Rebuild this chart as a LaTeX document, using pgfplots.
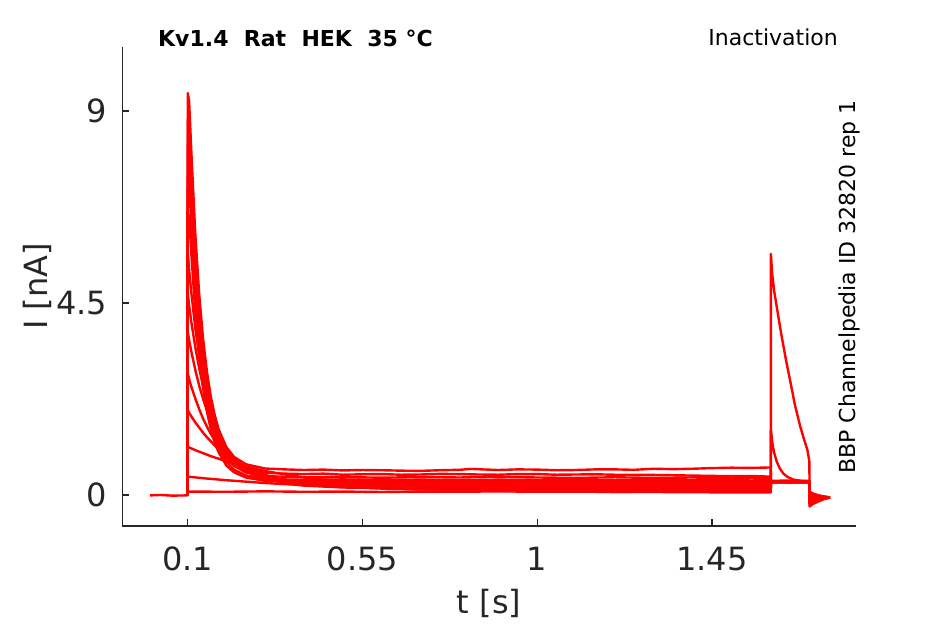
\documentclass[border=0pt]{standalone}
\usepackage{fontspec}
\setmainfont{DejaVu Sans}
\usepackage{pgfplots}
\pgfplotsset{compat=1.18}
\definecolor{axgray}{HTML}{262626}
\begin{document}
\begin{tikzpicture}
\path[use as bounding box] (-122.3pt,-98pt) rectangle (822.7pt,526pt);
\begin{axis}[
  at={(0pt,0pt)}, anchor=south west,
  scale only axis, width=733.7pt, height=479pt,
  xmin=-0.068, xmax=1.821, ymin=-0.727, ymax=10.5,
  axis lines=left,
  axis line style={-, axgray, line width=1.2pt},
  xtick={0.1,0.55,1,1.45}, xticklabels={0.1,0.55,1,1.45},
  ytick={0,4.5,9}, yticklabels={0,4.5,9},
  xtick pos=left, ytick pos=left,
  tick align=inside, major tick length=7pt,
  tick style={axgray, line width=1.2pt},
  ticklabel style={font=\fontsize{32}{38}\selectfont, text=axgray},
  xticklabel style={anchor=north, inner sep=0pt, yshift=-21pt},
  yticklabel style={anchor=east, inner sep=0pt, xshift=-15pt},
  tr/.style={red, line width=2.4pt, mark=none, line join=round},
]
% A
\addplot[tr] coordinates {(0.1,-0.01) (0.1005,9.42) (0.104,9.24) (0.11,7.99) (0.12,6.11) (0.13,4.70) (0.14,3.66) (0.15,2.88) (0.16,2.30) (0.17,1.87) (0.18,1.54) (0.2,1.12) (0.22,0.89) (0.25,0.72) (0.3,0.62) (0.35,0.60) (0.4,0.585) (0.45,0.595) (0.5,0.575) (0.55,0.585) (0.6,0.58) (0.65,0.57) (0.7,0.565) (0.75,0.58) (0.8,0.59) (0.83,0.61) (0.9,0.585) (0.95,0.60) (1.0,0.595) (1.05,0.58) (1.1,0.585) (1.15,0.60) (1.2,0.60) (1.25,0.59) (1.3,0.615) (1.35,0.605) (1.4,0.615) (1.45,0.63) (1.5,0.64) (1.55,0.635) (1.6015,0.645) (1.602,0.33) (1.65,0.34) (1.701,0.33) (1.7015,-0.20) (1.71,-0.16) (1.725,-0.12) (1.74,-0.08) (1.754,-0.06)};
% B
\addplot[tr] coordinates {(0.1,-0.01) (0.1005,8.80) (0.104,8.63) (0.11,7.46) (0.12,5.69) (0.13,4.36) (0.14,3.38) (0.15,2.64) (0.16,2.10) (0.17,1.70) (0.18,1.39) (0.2,0.99) (0.22,0.77) (0.25,0.61) (0.3,0.52) (0.35,0.50) (0.4,0.49) (0.45,0.50) (0.5,0.475) (0.55,0.485) (0.6,0.49) (0.65,0.475) (0.7,0.48) (0.75,0.495) (0.8,0.49) (0.85,0.48) (0.9,0.475) (0.95,0.49) (1.0,0.49) (1.05,0.475) (1.1,0.48) (1.15,0.485) (1.2,0.475) (1.3,0.47) (1.4,0.455) (1.5,0.44) (1.55,0.445) (1.6015,0.43) (1.602,0.32) (1.65,0.315) (1.701,0.32) (1.7015,-0.17) (1.71,-0.14) (1.725,-0.11) (1.74,-0.08) (1.754,-0.065)};
% C
\addplot[tr] coordinates {(0.1,-0.01) (0.1005,8.20) (0.104,8.04) (0.11,6.94) (0.12,5.28) (0.13,4.04) (0.14,3.12) (0.15,2.43) (0.16,1.92) (0.17,1.54) (0.18,1.25) (0.2,0.88) (0.22,0.68) (0.25,0.53) (0.3,0.44) (0.35,0.43) (0.4,0.415) (0.5,0.42) (0.6,0.405) (0.7,0.42) (0.8,0.41) (0.9,0.425) (1.0,0.41) (1.1,0.40) (1.2,0.415) (1.3,0.40) (1.4,0.41) (1.5,0.395) (1.55,0.40) (1.6015,0.39) (1.602,0.31) (1.65,0.30) (1.701,0.31) (1.7015,-0.14) (1.71,-0.12) (1.725,-0.10) (1.74,-0.07) (1.754,-0.055)};
% D
\addplot[tr] coordinates {(0.1,-0.01) (0.1005,7.46) (0.104,7.32) (0.11,6.31) (0.12,4.80) (0.13,3.66) (0.14,2.82) (0.15,2.19) (0.16,1.73) (0.17,1.38) (0.18,1.12) (0.2,0.78) (0.22,0.59) (0.25,0.46) (0.3,0.38) (0.35,0.365) (0.4,0.355) (0.5,0.365) (0.6,0.35) (0.7,0.36) (0.8,0.345) (0.9,0.36) (1.0,0.35) (1.1,0.355) (1.2,0.345) (1.3,0.355) (1.4,0.345) (1.5,0.35) (1.55,0.34) (1.6015,0.345) (1.602,0.30) (1.65,0.31) (1.701,0.30) (1.7015,-0.11) (1.71,-0.10) (1.725,-0.08) (1.74,-0.07) (1.754,-0.06)};
% E
\addplot[tr] coordinates {(0.1,-0.01) (0.1005,6.64) (0.104,6.51) (0.11,5.62) (0.12,4.27) (0.13,3.26) (0.14,2.51) (0.15,1.95) (0.16,1.54) (0.17,1.23) (0.18,1.00) (0.2,0.69) (0.22,0.53) (0.25,0.41) (0.3,0.33) (0.35,0.32) (0.4,0.31) (0.5,0.32) (0.6,0.305) (0.7,0.315) (0.8,0.30) (0.9,0.31) (1.0,0.30) (1.1,0.31) (1.2,0.30) (1.3,0.305) (1.4,0.295) (1.5,0.30) (1.55,0.295) (1.6015,0.30) (1.602,0.31) (1.65,0.32) (1.701,0.31) (1.7015,-0.08) (1.71,-0.08) (1.725,-0.07) (1.74,-0.06) (1.754,-0.05)};
% F
\addplot[tr] coordinates {(0.1,-0.01) (0.1005,5.70) (0.104,5.28) (0.11,4.72) (0.12,3.91) (0.13,3.26) (0.14,2.71) (0.15,2.27) (0.16,1.91) (0.17,1.62) (0.18,1.37) (0.2,1.01) (0.22,0.77) (0.25,0.55) (0.3,0.38) (0.35,0.31) (0.4,0.285) (0.5,0.275) (0.6,0.28) (0.7,0.265) (0.8,0.275) (0.9,0.26) (1.0,0.27) (1.1,0.26) (1.2,0.265) (1.3,0.255) (1.4,0.26) (1.5,0.25) (1.55,0.255) (1.6015,0.25) (1.602,0.32) (1.65,0.31) (1.701,0.32) (1.7015,-0.05) (1.71,-0.055) (1.725,-0.06) (1.74,-0.06) (1.754,-0.065)};
% G
\addplot[tr] coordinates {(0.1,-0.01) (0.1005,4.73) (0.104,4.44) (0.11,4.04) (0.12,3.46) (0.13,2.97) (0.14,2.54) (0.15,2.19) (0.16,1.89) (0.17,1.64) (0.18,1.43) (0.2,1.09) (0.22,0.85) (0.25,0.61) (0.3,0.40) (0.35,0.31) (0.4,0.26) (0.5,0.24) (0.6,0.235) (0.7,0.23) (0.8,0.235) (0.9,0.22) (1.0,0.23) (1.1,0.215) (1.2,0.225) (1.3,0.215) (1.4,0.22) (1.5,0.21) (1.55,0.215) (1.6015,0.21) (1.602,0.30) (1.65,0.29) (1.701,0.30) (1.7015,-0.02) (1.71,-0.03) (1.725,-0.05) (1.74,-0.05) (1.754,-0.06)};
% H
\addplot[tr] coordinates {(0.1,-0.01) (0.1005,3.83) (0.104,3.63) (0.11,3.35) (0.12,2.93) (0.13,2.56) (0.14,2.25) (0.15,1.98) (0.16,1.74) (0.17,1.54) (0.18,1.36) (0.2,1.07) (0.22,0.85) (0.25,0.62) (0.3,0.41) (0.35,0.30) (0.4,0.24) (0.5,0.21) (0.6,0.20) (0.7,0.19) (0.8,0.195) (0.9,0.185) (1.0,0.19) (1.1,0.18) (1.2,0.185) (1.3,0.175) (1.4,0.18) (1.5,0.17) (1.55,0.175) (1.6015,0.17) (1.602,0.31) (1.65,0.30) (1.701,0.31) (1.7015,0.01) (1.71,-0.01) (1.725,-0.035) (1.74,-0.05) (1.754,-0.055)};
% I
\addplot[tr] coordinates {(0.1,-0.01) (0.1005,2.85) (0.104,2.72) (0.11,2.53) (0.12,2.26) (0.13,2.01) (0.14,1.79) (0.15,1.60) (0.16,1.43) (0.17,1.28) (0.18,1.15) (0.2,0.93) (0.22,0.76) (0.25,0.57) (0.3,0.38) (0.35,0.28) (0.4,0.22) (0.5,0.175) (0.6,0.165) (0.7,0.155) (0.8,0.16) (0.9,0.15) (1.0,0.155) (1.1,0.145) (1.2,0.15) (1.3,0.14) (1.4,0.145) (1.5,0.135) (1.55,0.14) (1.6015,0.135) (1.602,0.29) (1.65,0.30) (1.701,0.29) (1.7015,0.04) (1.71,0.01) (1.725,-0.025) (1.74,-0.045) (1.754,-0.06)};
% J
\addplot[tr] coordinates {(0.1,-0.01) (0.1005,1.99) (0.104,1.93) (0.11,1.84) (0.12,1.70) (0.13,1.58) (0.14,1.46) (0.15,1.35) (0.16,1.26) (0.17,1.16) (0.18,1.08) (0.2,0.93) (0.22,0.81) (0.25,0.66) (0.3,0.47) (0.35,0.35) (0.4,0.27) (0.5,0.19) (0.6,0.15) (0.7,0.13) (0.8,0.125) (0.9,0.115) (1.0,0.12) (1.1,0.11) (1.2,0.115) (1.3,0.105) (1.4,0.11) (1.5,0.10) (1.55,0.105) (1.6015,0.10) (1.602,0.30) (1.65,0.31) (1.701,0.30) (1.7015,0.06) (1.71,0.02) (1.725,-0.015) (1.74,-0.04) (1.754,-0.055)};
% K
\addplot[tr] coordinates {(0.1,-0.01) (0.1005,1.13) (0.12,1.05) (0.14,0.98) (0.16,0.91) (0.18,0.85) (0.2,0.79) (0.25,0.67) (0.3,0.56) (0.4,0.41) (0.5,0.31) (0.6,0.24) (0.7,0.19) (0.8,0.16) (0.9,0.14) (1.0,0.13) (1.1,0.115) (1.2,0.11) (1.3,0.105) (1.4,0.10) (1.5,0.095) (1.55,0.10) (1.6015,0.095) (1.602,0.31) (1.65,0.32) (1.701,0.31) (1.7015,0.08) (1.71,0.035) (1.725,-0.01) (1.74,-0.04) (1.754,-0.06)};
% L
\addplot[tr] coordinates {(0.1,-0.01) (0.1005,0.43) (0.15,0.385) (0.2,0.346) (0.3,0.28) (0.4,0.23) (0.5,0.19) (0.6,0.16) (0.7,0.135) (0.8,0.116) (0.9,0.10) (1.0,0.09) (1.1,0.08) (1.2,0.074) (1.3,0.07) (1.4,0.065) (1.5,0.06) (1.6015,0.059) (1.602,1.52) (1.606,1.2) (1.61,1.0) (1.617,0.78) (1.625,0.62) (1.634,0.5) (1.645,0.42) (1.66,0.36) (1.68,0.33) (1.701,0.32) (1.7015,-0.22) (1.71,-0.17) (1.725,-0.13) (1.74,-0.08) (1.754,-0.06)};
% M
\addplot[tr] coordinates {(0.003,-0.01) (0.03,0.0) (0.06,-0.015) (0.0995,-0.01) (0.1005,0.08) (0.2,0.075) (0.3,0.085) (0.4,0.075) (0.5,0.08) (0.6,0.07) (0.7,0.08) (0.8,0.075) (0.9,0.085) (1.0,0.075) (1.1,0.08) (1.2,0.07) (1.3,0.08) (1.4,0.075) (1.5,0.08) (1.6015,0.075) (1.602,5.65) (1.605,5.2) (1.61,4.8) (1.618,4.35) (1.628,3.8) (1.64,3.2) (1.651,2.7) (1.664,2.1) (1.677,1.62) (1.688,1.28) (1.696,1.05) (1.701,0.78) (1.7015,-0.27) (1.71,-0.21) (1.725,-0.15) (1.74,-0.09) (1.754,-0.06)};
\end{axis}
\node[anchor=base west, inner sep=0pt, font=\bfseries\fontsize{22}{26}\selectfont] at (35.7pt,479.3pt) {Kv1.4\ \ Rat\ \ HEK\ \ 35 °C};
\node[anchor=base east, inner sep=0pt, font=\fontsize{22}{26}\selectfont] at (715.7pt,480pt) {Inactivation};
\node[rotate=90, anchor=base east, inner sep=0pt, font=\fontsize{22}{26}\selectfont] at (732.7pt,426pt) {BBP Channelpedia ID 32820 rep 1};
\node[anchor=base, inner sep=0pt, font=\fontsize{32}{38}\selectfont, text=axgray] at (366.85pt,-87.3pt) {t [s]};
\node[rotate=90, anchor=base, inner sep=0pt, font=\fontsize{32}{38}\selectfont, text=axgray] at (-74.3pt,239.5pt) {I [nA]};
\end{tikzpicture}
\end{document}
